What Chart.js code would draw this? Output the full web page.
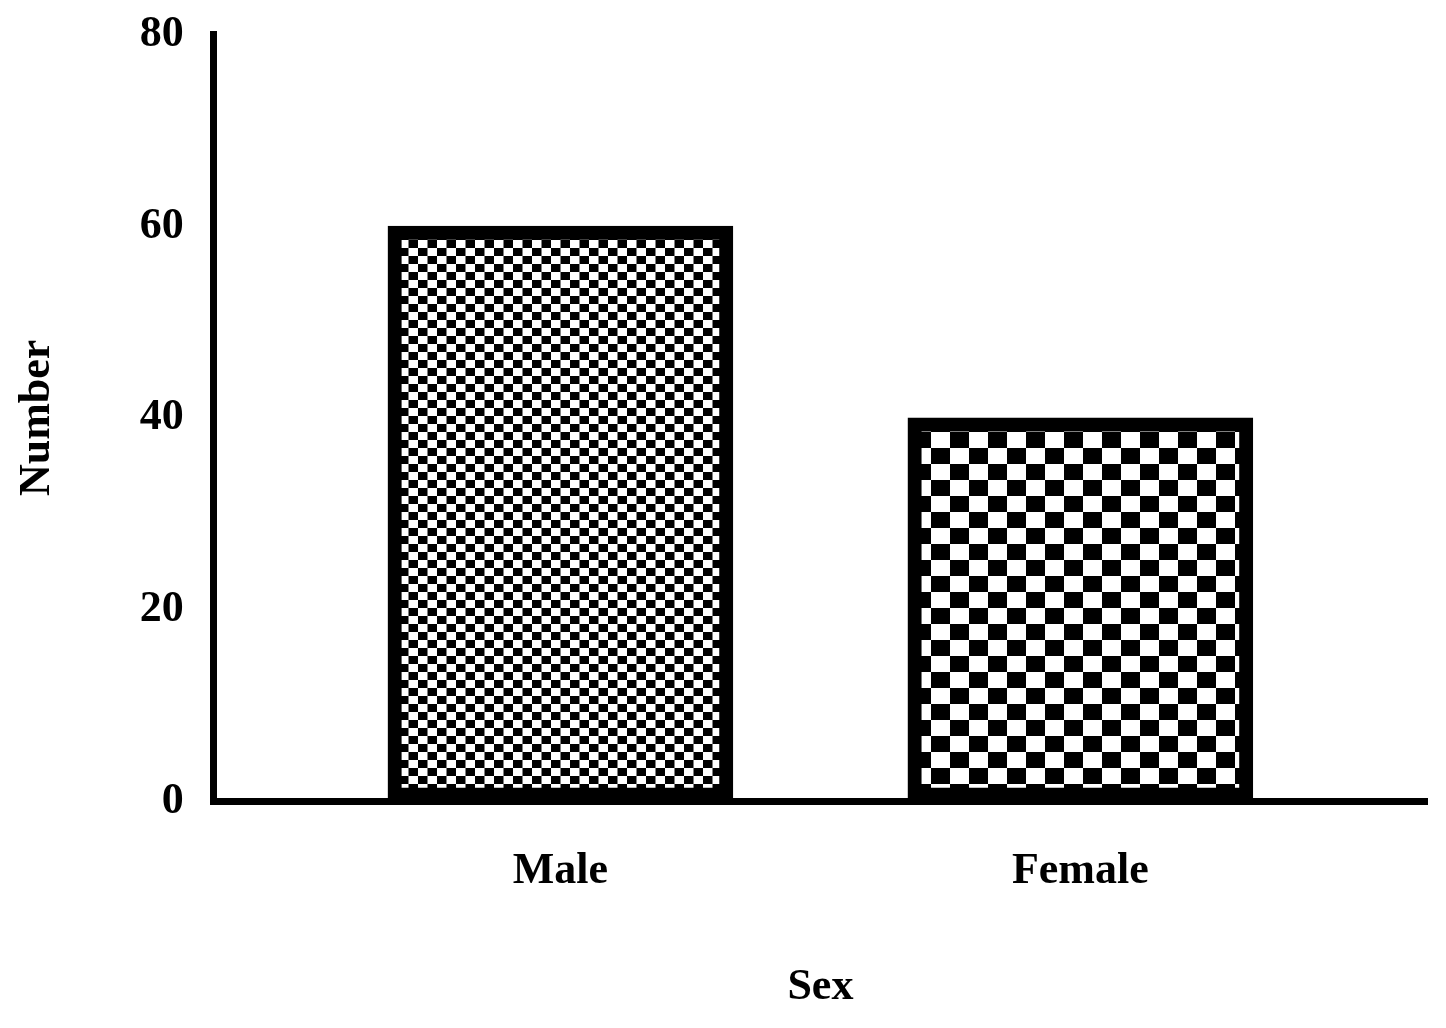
<!DOCTYPE html><html><head><script src="https://cdn.jsdelivr.net/npm/chart.js@4"></script>
<style>body{margin:0;background:#fff}#w{width:1446px;height:1028px}</style></head><body><div id="w"><canvas id="c"></canvas></div>
<script>
const categories=["Male","Female"];
const values=[60,40];
const yTicks=[0,20,40,60,80];
const slots=["","",categories[0],"","",categories[1],"",""];
const slotData=slots.map(s=>{const i=categories.indexOf(s);return i>=0?values[i]:null;});
function pat(cw,ch){const c=document.createElement('canvas');c.width=cw*2;c.height=ch*2;const g=c.getContext('2d');
g.fillStyle='#000';g.fillRect(0,0,cw*2,ch*2);g.fillStyle='#fff';g.fillRect(0,0,cw,ch);g.fillRect(cw,ch,cw,ch);
return g.createPattern(c,'repeat');}
const ctx=document.getElementById('c').getContext('2d');
const F="'Liberation Serif', serif";
const p1=pat(9.5,8),p2=pat(19,16);
new Chart(ctx,{type:'bar',data:{labels:slots,datasets:[{data:slotData,
backgroundColor:c=>slots[c.dataIndex]===categories[0]?p1:p2,borderColor:'#000',borderWidth:14,borderSkipped:false,barThickness:345}]},
options:{responsive:true,maintainAspectRatio:false,animation:false,
layout:{padding:{left:7,right:16,top:23,bottom:10}},
plugins:{legend:{display:false},tooltip:{enabled:false}},
scales:{x:{offset:false,
grid:{display:false,drawTicks:true,tickLength:25,tickWidth:7,tickColor:c=>slots[c.index]?'#000':'rgba(0,0,0,0)'},border:{color:'#000',width:7},
ticks:{autoSkip:false,maxRotation:0,color:'#000',font:{family:F,size:44,weight:'bold'},padding:19},
title:{display:true,text:'Sex',color:'#000',font:{family:F,size:44,weight:'bold'},padding:{top:44}}},
y:{min:0,max:80,afterBuildTicks:a=>{a.ticks=yTicks.map(v=>({value:v}))},
grid:{display:false,drawTicks:true,tickLength:22,tickWidth:7,tickColor:'#000'},border:{color:'#000',width:7},
ticks:{color:'#000',font:{family:F,size:44,weight:'bold'},padding:8},
title:{display:true,text:'Number',color:'#000',font:{family:F,size:44,weight:'bold'},padding:{bottom:68}}}}}});
</script></body></html>
